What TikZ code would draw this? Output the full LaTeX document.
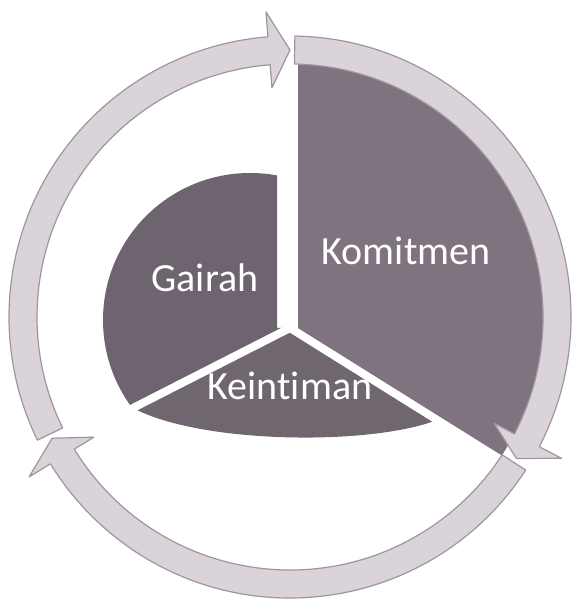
\documentclass[tikz,border=0pt]{standalone}
\usepackage{fontspec}
\setmainfont[Ligatures={NoCommon,NoDiscretionary,NoHistoric}]{Carlito}
\usetikzlibrary{calc}
\definecolor{ringfill}{HTML}{DAD3DA}
\definecolor{ringedge}{HTML}{9E969F}
\definecolor{komfill}{HTML}{7E737F}
\definecolor{gaifill}{HTML}{6E646F}
\definecolor{keifill}{HTML}{6F6670}
\newcommand\ringseg[3]{%
  \fill[ringpart] (#1:281) arc[start angle=#1, end angle=#2, radius=281]
    -- (#2:306) -- (#3:267) -- (#2:230) -- (#2:253)
    arc[start angle=#2, end angle=#1, radius=253] -- cycle;
  \draw[ringline] (#1:281) arc[start angle=#1, end angle=#2, radius=281]
    -- (#2:306) -- (#3:267) -- (#2:230) -- (#2:253)
    arc[start angle=#2, end angle=#1, radius=253] -- cycle;}
\begin{document}
\begin{tikzpicture}[x=1pt,y=1pt,
  ringpart/.style={fill=ringfill},
  ringline/.style={draw=ringedge, line width=1.2pt, line join=round},
  gapline/.style={draw=white, line width=8pt},
  label/.style={text=white, font=\fontsize{40}{48}\selectfont, inner sep=0pt, anchor=base}]
\useasboundingbox (0,0) rectangle (572,601);
\fill[white] (0,0) rectangle (572,601);
\coordinate (C) at (290,284);
\coordinate (H) at (290,273);
\coordinate (G) at (250,281);
% Komitmen
\begin{scope}
  \clip (C) circle[radius=253];
  \fill[komfill] (298,273) -- (298,620) -- (620,620) -- (620,67) -- (H) -- cycle;
\end{scope}
% Gairah
\begin{scope}
  \clip (G) circle[radius=147];
  \fill[gaifill] (277,620) -- (277,273) -- (H) -- (0,125) -- (0,620) -- cycle;
\end{scope}
% Keintiman
\fill[keifill] (H) -- (133,193) .. controls (200,157) and (370,155) .. (437,181) -- cycle;
% white separators
\coordinate (LL) at ($(H)+(207:182)$);
\coordinate (LR) at ($(H)+(-32:262)$);
\draw[gapline] (H) -- (LL);
\draw[gapline] (H) -- (LR);
% ring
\begin{scope}[shift={(C)}]
  \ringseg{206}{94.5}{90}
  \ringseg{89}{-27.5}{-32}
  \ringseg{327}{211.5}{207}
\end{scope}
% labels
\node[label] (kom) at (406,336) {Komitmen};
\node[label] (gai) at (205,309) {Gairah};
\node[label] (kei) at (290,201) {Keintiman};
\end{tikzpicture}
\end{document}
